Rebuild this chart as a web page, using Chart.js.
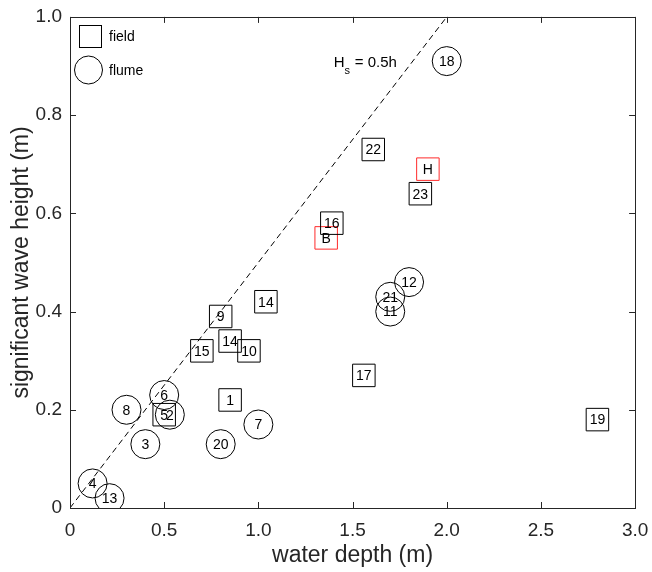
<!DOCTYPE html>
<html><head><meta charset="utf-8">
<script src="https://cdn.jsdelivr.net/npm/chart.js@4"></script>
<style>html,body{margin:0;padding:0;background:#fff}#wrap{width:652px;height:572px}</style>
</head><body><div id="wrap"><canvas id="c" width="652" height="572"></canvas></div>
<script>
// ---- data ----
const fieldLabels = ['22','23','16','14','9','14','10','15','17','1','5','19'];
const fieldDepth  = [1.61,1.86,1.39,1.04,0.80,0.85,0.95,0.70,1.56,0.85,0.50,2.80];
const fieldHs     = [0.73,0.64,0.58,0.42,0.39,0.34,0.32,0.32,0.27,0.22,0.19,0.18];
const markedLabels = ['H','B'];
const markedDepth  = [1.90,1.36];
const markedHs     = [0.69,0.55];
const flumeLabels = ['18','12','21','11','6','2','8','3','20','7','4','13'];
const flumeDepth  = [2.00,1.80,1.70,1.70,0.50,0.53,0.30,0.40,0.80,1.00,0.12,0.21];
const flumeHs     = [0.91,0.46,0.43,0.40,0.23,0.19,0.20,0.13,0.13,0.17,0.05,0.02];
const ruleDepth = [0, 2];
const ruleHs    = [0, 1];
const xTickValues = [0,0.5,1,1.5,2,2.5,3];
const yTickValues = [0,0.2,0.4,0.6,0.8,1];
const xTitle = 'water depth (m)';
const yTitle = 'significant wave height (m)';
const legendItems = ['field','flume'];

const FONT = '"Liberation Sans", Arial, Helvetica, sans-serif';
const AX = '#262626';
const pts = (xs, ys) => xs.map((x, i) => ({x, y: ys[i]}));
const fmt = v => v === 0 ? '0' : Number(v).toFixed(1);

const datasets = [
  {type:'line', data: pts(ruleDepth, ruleHs), borderColor:'#000', borderWidth:1, borderDash:[6,4],
   pointRadius:0, fill:false, showLine:true},
  {data: pts(fieldDepth, fieldHs), pointStyle:'rect', pointRadius:15.9, pointHoverRadius:15.9,
   borderColor:'#000', borderWidth:1, backgroundColor:'rgba(0,0,0,0)', labels: fieldLabels},
  {data: pts(markedDepth, markedHs), pointStyle:'rect', pointRadius:15.9, pointHoverRadius:15.9,
   borderColor:'#ff2a2a', borderWidth:1, backgroundColor:'rgba(0,0,0,0)', labels: markedLabels},
  {data: pts(flumeDepth, flumeHs), pointStyle:'circle', pointRadius:14.5, pointHoverRadius:14.5,
   borderColor:'#000', borderWidth:1, backgroundColor:'rgba(0,0,0,0)', labels: flumeLabels}
];

const framePlugin = {
  id:'frame',
  afterDatasetsDraw(chart){
    const ctx = chart.ctx, a = chart.chartArea, xs = chart.scales.x, ys = chart.scales.y;
    ctx.save();
    // marker labels
    ctx.font = '14px ' + FONT; ctx.fillStyle = '#000';
    ctx.textAlign = 'center'; ctx.textBaseline = 'middle';
    chart.data.datasets.forEach((ds, di) => {
      if (!ds.labels) return;
      chart.getDatasetMeta(di).data.forEach((el, i) => ctx.fillText(ds.labels[i], el.x, el.y + 1));
    });
    // frame
    ctx.strokeStyle = AX; ctx.lineWidth = 1;
    ctx.strokeRect(Math.round(a.left)+0.5, Math.round(a.top)+0.5, Math.round(a.right-a.left), Math.round(a.bottom-a.top));
    const tl = 6;
    ctx.beginPath();
    xTickValues.forEach(v => {
      const px = Math.round(xs.getPixelForValue(v)) + 0.5;
      ctx.moveTo(px, a.bottom); ctx.lineTo(px, a.bottom - tl);
      ctx.moveTo(px, a.top); ctx.lineTo(px, a.top + tl);
    });
    yTickValues.forEach(v => {
      const py = Math.round(ys.getPixelForValue(v)) + 0.5;
      ctx.moveTo(a.left, py); ctx.lineTo(a.left + tl, py);
      ctx.moveTo(a.right, py); ctx.lineTo(a.right - tl, py);
    });
    ctx.stroke();
    // legend
    ctx.strokeStyle = '#000';
    ctx.strokeRect(79.5, 25.5, 22, 22);
    ctx.beginPath(); ctx.arc(88.5, 70, 14, 0, Math.PI*2); ctx.stroke();
    ctx.fillStyle = '#000'; ctx.textAlign = 'left'; ctx.textBaseline = 'middle';
    ctx.font = '14px ' + FONT;
    ctx.fillText(legendItems[0], 109, 37);
    ctx.fillText(legendItems[1], 109, 71);
    // annotation H_s = 0.5h
    const ax = xs.getPixelForValue(1.40), ay = ys.getPixelForValue(0.897);
    ctx.textBaseline = 'alphabetic';
    ctx.font = '15px ' + FONT;
    ctx.fillText('H', ax, ay);
    const hw = ctx.measureText('H').width;
    ctx.font = '11px ' + FONT;
    ctx.fillText('s', ax + hw, ay + 7);
    ctx.font = '15px ' + FONT;
    ctx.fillText(' = 0.5h', ax + hw + 6, ay);
    ctx.restore();
  }
};

new Chart(document.getElementById('c'), {
  type:'scatter',
  data:{datasets},
  options:{
    responsive:false, animation:false, devicePixelRatio:1,
    layout:{padding:{top:13, right:15, left:0, bottom:0}},
    plugins:{legend:{display:false}, tooltip:{enabled:false}},
    scales:{
      x:{type:'linear', min:0, max:3,
         afterBuildTicks: s => { s.ticks = xTickValues.map(v => ({value:v})); },
         afterFit: s => { s.height = 64; s.paddingLeft = 0; s.paddingRight = 0; },
         grid:{display:false, drawTicks:false}, border:{display:false},
         ticks:{font:{family:FONT, size:19}, color:AX, padding:11, maxRotation:0, callback: v => fmt(v)},
         title:{display:true, text:xTitle, color:AX, font:{family:FONT, size:23}, padding:{top:0, bottom:3}}},
      y:{type:'linear', min:0, max:1,
         afterBuildTicks: s => { s.ticks = yTickValues.map(v => ({value:v})); },
         afterFit: s => { s.width = 70; s.paddingTop = 0; s.paddingBottom = 0; },
         grid:{display:false, drawTicks:false}, border:{display:false},
         ticks:{font:{family:FONT, size:19}, color:AX, padding:8, callback: v => fmt(v)},
         title:{display:true, text:yTitle, color:AX, font:{family:FONT, size:23}, padding:{top:8, bottom:0}}}
    }
  },
  plugins:[framePlugin]
});
</script></body></html>
